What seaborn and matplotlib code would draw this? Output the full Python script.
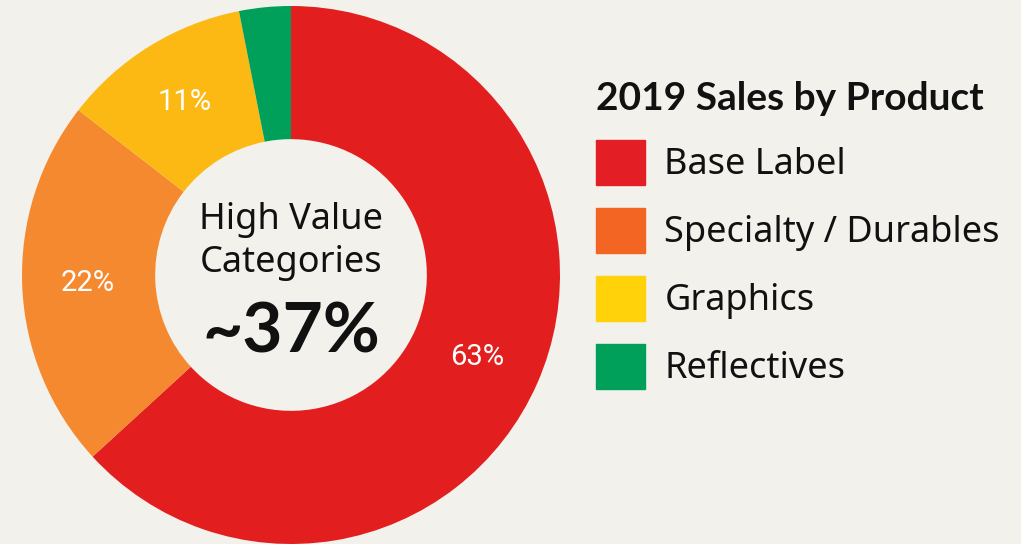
import matplotlib
matplotlib.use("Agg")
import matplotlib.pyplot as plt
import matplotlib.patches as mpatches
import seaborn as sns

products = ["Base Label", "Specialty / Durables", "Graphics", "Reflectives"]
share = [63.2, 22.3, 11.4, 3.1]
slice_labels = ["63%", "22%", "11%", ""]
pie_colors = ["#E31E1E", "#F5892F", "#FDB913", "#00A05A"]
legend_colors = ["#E31E24", "#F26522", "#FFD20A", "#00A05A"]
center_share = "~37%"

bg = "#F2F1EB"
sns.set_theme(style="white", rc={"figure.facecolor": bg, "axes.facecolor": bg,
                                 "text.color": "#111111"})
plt.rcParams["font.family"] = ["Noto Sans", "DejaVu Sans"]

fig = plt.figure(figsize=(10.21, 5.44), dpi=100)
ax = fig.add_axes([21 / 1021, -1 / 544, 540 / 1021, 540 / 544])

R = 269 / 270
wedges, texts = ax.pie(share, colors=pie_colors, startangle=90, counterclock=False,
                       radius=R, labels=slice_labels, labeldistance=0.755,
                       wedgeprops=dict(width=R * 0.495, linewidth=0),
                       textprops=dict(color="white", fontsize=21, family=["Roboto", "DejaVu Sans"]))
for t in texts:
    t.set_ha("center")
    t.set_va("center")
ax.set_xlim(-1, 1)
ax.set_ylim(-1, 1)
ax.set_aspect("equal")
ax.axis("off")

ax.text(0, 0.205, "High Value", ha="center", va="center", fontsize=26, color="#111111")
ax.text(0, 0.045, "Categories", ha="center", va="center", fontsize=26, color="#111111")
ax.text(0, -0.215, center_share, ha="center", va="center", fontsize=50,
        fontweight="bold", family=["Lato", "DejaVu Sans"], color="#111111")

handles = [mpatches.Patch(color=c, label=p) for c, p in zip(legend_colors, products)]
leg = fig.legend(handles=handles, loc="upper left", bbox_to_anchor=(563 / 1021, 1 - 49 / 544),
                 frameon=False, fontsize=26, title="2019 Sales by Product",
                 title_fontproperties=dict(size=28, weight="bold", family=["Lato", "DejaVu Sans"]),
                 alignment="left",
                 handlelength=1.36, handleheight=1.54, handletextpad=0.55,
                 labelspacing=0.64)
leg.get_title().set_color("#111111")
for t in leg.get_texts():
    t.set_color("#111111")

fig.savefig("out.png", dpi=100, facecolor=bg)
